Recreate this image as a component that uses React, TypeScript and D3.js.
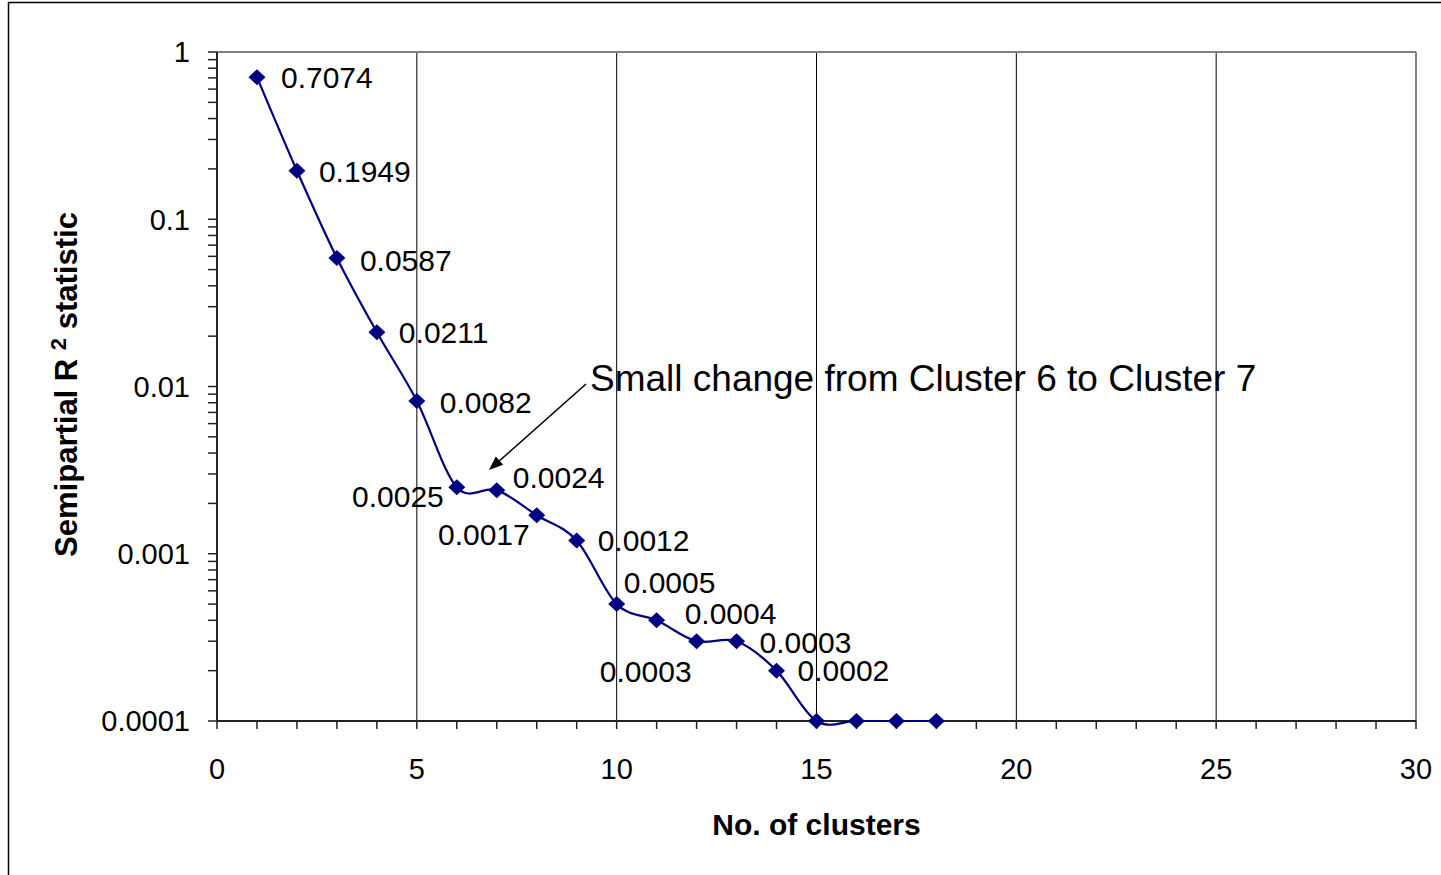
import React from "react";
import * as d3 from "d3";

// Semipartial R² by number of clusters
const clusters = [1, 2, 3, 4, 5, 6, 7, 8, 9, 10, 11, 12, 13, 14, 15, 16, 17, 18];
const semipartialR2 = [
  0.7074, 0.1949, 0.0587, 0.0211, 0.0082, 0.0025, 0.0024, 0.0017, 0.0012,
  0.0005, 0.0004, 0.0003, 0.0003, 0.0002, 0.0001, 0.0001, 0.0001, 0.0001,
];
const labelled = [true, true, true, true, true, true, true, true, true, true, true, true, true, true, false, false, false, false];
const xTicks = [0, 5, 10, 15, 20, 25, 30];
const yTicks = [1, 0.1, 0.01, 0.001, 0.0001];
const yTickLabels = ["1", "0.1", "0.01", "0.001", "0.0001"];
const annotationText = "Small change from Cluster 6 to Cluster 7";

// where each value label sits relative to its marker: [dx, dy, anchor]
const labelPlacement: [number, number, string][] = [
  [24, 0, "start"], [22, 0, "start"], [23, 2, "start"], [22, 0, "start"], [23, 1, "start"],
  [-13, 9, "end"], [16, -13, "start"], [-7, 19, "end"], [21, 0, "start"], [7, -22, "start"],
  [28, -7, "start"], [-5, 30, "end"], [23, 1, "start"], [21, 0, "start"],
];

const W = 1441;
const H = 875;
const left = 217;
const right = 1416;
const top = 52;
const bottom = 721;
const FONT = "'Liberation Sans', Arial, sans-serif";
const NAVY = "#000080";

export default function App() {
  const x = d3.scaleLinear().domain([0, 30]).range([left, right]);
  const y = d3.scaleLog().domain([0.0001, 1]).range([bottom, top]);

  const pts: [number, number][] = clusters.map((c, i) => [x(c), y(semipartialR2[i])]);
  const line = d3.line().curve(d3.curveCardinal.tension(0))(pts) || "";

  const minorX = d3.range(0, 31);
  const minorY: number[] = [];
  for (let e = -4; e < 0; e++) {
    for (let m = 1; m <= 9; m++) minorY.push(m * Math.pow(10, e));
  }
  minorY.push(1);

  const diamond = (cx: number, cy: number) =>
    `M${cx},${cy - 8}L${cx + 8.5},${cy}L${cx},${cy + 8}L${cx - 8.5},${cy}Z`;

  // annotation arrow
  const a0: [number, number] = [586, 384];
  const a1: [number, number] = [489, 470];
  const ang = Math.atan2(a1[1] - a0[1], a1[0] - a0[0]);
  const hl = 14;
  const hw = 5.5;
  const bx = a1[0] - hl * Math.cos(ang);
  const by = a1[1] - hl * Math.sin(ang);
  const head = `M${a1[0]},${a1[1]}L${bx + hw * Math.sin(ang)},${by - hw * Math.cos(ang)}L${bx - hw * Math.sin(ang)},${by + hw * Math.cos(ang)}Z`;

  return (
    <svg
      width={W}
      height={H}
      style={{ position: "fixed", left: 0, top: 0, background: "#fff" }}
      fontFamily={FONT}
    >
      <rect x={0} y={0} width={W} height={H} fill="#fff" />
      {/* chart frame */}
      <rect x={8.5} y={2.5} width={W + 20} height={H + 20} fill="none" stroke="#000" strokeWidth={1.5} />

      {/* vertical gridlines */}
      {xTicks.slice(1, -1).map((t) => (
        <line key={t} x1={x(t)} x2={x(t)} y1={top} y2={bottom} stroke="#000" strokeWidth={1} />
      ))}
      {/* plot border */}
      <line x1={left} x2={right} y1={top} y2={top} stroke="#808080" strokeWidth={2} />
      <line x1={right} x2={right} y1={top} y2={bottom} stroke="#808080" strokeWidth={2} />

      {/* x axis */}
      <line x1={left} x2={right} y1={bottom} y2={bottom} stroke="#222" strokeWidth={2} />
      {minorX.map((t) => (
        <line key={t} x1={x(t)} x2={x(t)} y1={bottom} y2={bottom + 8} stroke="#222" strokeWidth={1.5} />
      ))}
      {xTicks.map((t) => (
        <text key={t} x={x(t)} y={779} fontSize={29} textAnchor="middle" fill="#000">
          {t}
        </text>
      ))}

      {/* y axis */}
      <line x1={left} x2={left} y1={top} y2={bottom} stroke="#222" strokeWidth={2} />
      {minorY.map((t, i) => (
        <line key={i} x1={left - 9} x2={left} y1={y(t)} y2={y(t)} stroke="#222" strokeWidth={1.5} />
      ))}
      {yTicks.map((t, i) => (
        <text key={t} x={190} y={y(t)} dy="0.36em" fontSize={29} textAnchor="end" fill="#000">
          {yTickLabels[i]}
        </text>
      ))}

      {/* series */}
      <path d={line} fill="none" stroke={NAVY} strokeWidth={2.2} />
      {pts.map(([px, py], i) => (
        <path key={i} d={diamond(px, py)} fill={NAVY} />
      ))}
      {pts.map(([px, py], i) =>
        labelled[i] ? (
          <text
            key={i}
            x={px + labelPlacement[i][0]}
            y={py + labelPlacement[i][1]}
            dy="0.36em"
            fontSize={30}
            textAnchor={labelPlacement[i][2]}
            fill="#000"
          >
            {semipartialR2[i].toFixed(4)}
          </text>
        ) : null
      )}

      {/* annotation */}
      <line x1={a0[0]} y1={a0[1]} x2={bx} y2={by} stroke="#000" strokeWidth={1.5} />
      <path d={head} fill="#000" />
      <text x={590} y={391} fontSize={37} fill="#000">
        {annotationText}
      </text>

      {/* axis titles */}
      <text x={(left + right) / 2} y={835} fontSize={30} fontWeight="bold" textAnchor="middle" fill="#000">
        No. of clusters
      </text>
      <text
        transform={`translate(77, ${(top + bottom) / 2 - 2}) rotate(-90)`}
        fontSize={31}
        fontWeight="bold"
        textAnchor="middle"
        fill="#000"
      >
        Semipartial R{" "}
        <tspan fontSize={22} dy={-11}>2</tspan>
        <tspan dy={11}> statistic</tspan>
      </text>
    </svg>
  );
}
